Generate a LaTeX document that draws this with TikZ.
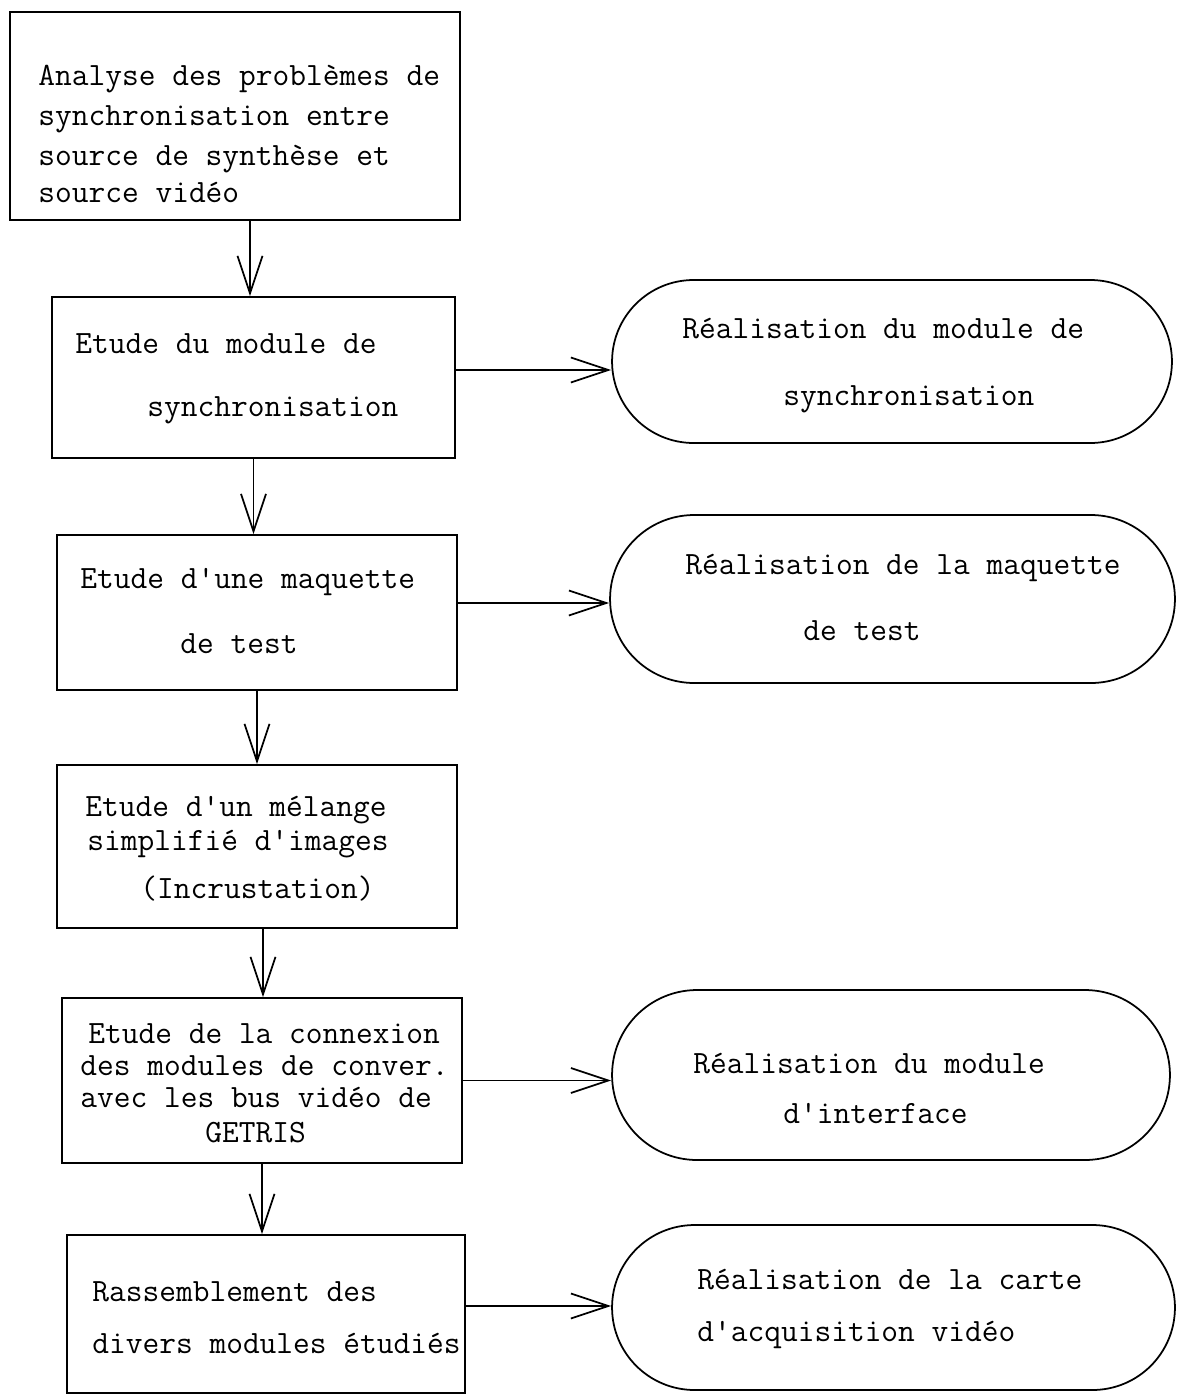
\documentclass[tikz,border=0pt]{standalone}
\usepackage{fontspec}
\usetikzlibrary{arrows.meta,shapes.misc}

\begin{document}
\begin{tikzpicture}[x=0.02cm,y=-0.02cm,
		etape/.style={draw, line width=1pt, rectangle, inner sep=0pt},
		realis/.style={draw, line width=1pt, rounded rectangle, inner sep=0pt},
		txt/.style={anchor=mid west, inner sep=0pt, font=\ttfamily\fontsize{18.5}{22}\selectfont},
		fleche/.style={line width=1pt, -{Straight Barb[length=0.75cm,width=0.5cm]}}]
		\useasboundingbox (0,0) rectangle (1179,1397);

		% etudes
		\node[etape, minimum width=9cm, minimum height=4.16cm] (b1) at (235,116) {};
		\node[etape, minimum width=8.06cm, minimum height=3.22cm] (b2) at (253.5,377.5) {};
		\node[etape, minimum width=8cm, minimum height=3.1cm] (b3) at (257,612.5) {};
		\node[etape, minimum width=8cm, minimum height=3.26cm] (b4) at (257,846.5) {};
		\node[etape, minimum width=8cm, minimum height=3.3cm] (b5) at (262,1080.5) {};
		\node[etape, minimum width=7.96cm, minimum height=3.16cm] (b6) at (266,1314) {};

		% realisations
		\node[realis, minimum width=11.2cm, minimum height=3.26cm] (s1) at (892,361.5) {};
		\node[realis, minimum width=11.3cm, minimum height=3.36cm] (s2) at (892.5,599) {};
		\node[realis, minimum width=11.16cm, minimum height=3.4cm] (s3) at (891,1075) {};
		\node[realis, minimum width=11.26cm, minimum height=3.3cm] (s4) at (893.5,1307.5) {};

		\node[txt] (t1a) at (38,82) {Analyse des problèmes de};
		\node[txt] (t1b) at (38,122) {synchronisation entre};
		\node[txt] (t1c) at (38,162) {source de synthèse et};
		\node[txt] (t1d) at (38,199) {source vidéo};

		\node[txt] (t2a) at (75,350) {Etude du module de};
		\node[txt] (t2b) at (147,413) {synchronisation};

		\node[txt] (t3a) at (80,585) {Etude d'une maquette};
		\node[txt] (t3b) at (180,650) {de test};

		\node[txt] (t4a) at (85,813) {Etude d'un mélange};
		\node[txt] (t4b) at (87,847) {simplifié d'images};
		\node[txt] (t4c) at (140,895) {(Incrustation)};

		\node[txt] (t5a) at (88,1040) {Etude de la connexion};
		\node[txt] (t5b) at (80,1072) {des modules de conver.};
		\node[txt] (t5c) at (80,1104) {avec les bus vidéo de};
		\node[txt] (t5d) at (205,1139) {GETRIS};

		\node[txt] (t6a) at (92,1298) {Rassemblement des};
		\node[txt] (t6b) at (92,1350) {divers modules étudiés};

		\node[txt] (u1a) at (682,335) {Réalisation du module de};
		\node[txt] (u1b) at (783,402) {synchronisation};
		\node[txt] (u2a) at (685,571) {Réalisation de la maquette};
		\node[txt] (u2b) at (803,637) {de test};
		\node[txt] (u3a) at (693,1070) {Réalisation du module};
		\node[txt] (u3b) at (783,1120) {d'interface};
		\node[txt] (u4a) at (697,1286) {Réalisation de la carte};
		\node[txt] (u4b) at (697,1338) {d'acquisition vidéo};

		% fleches
		\draw[fleche] ([xshift=0.3cm]b1.south) -- ([xshift=0.3cm]b1.south |- b2.north);
		\draw[fleche] (b2.south) -- (b2.south |- b3.north);
		\draw[fleche] (b3.south) -- (b3.south |- b4.north);
		\draw[fleche] ([xshift=0.12cm]b4.south) -- ([xshift=0.12cm]b4.south |- b5.north);
		\draw[fleche] (b5.south) -- (b5.south |- b6.north);

		\draw[fleche] ([yshift=0.15cm]b2.east) -- ([yshift=0.15cm]b2.east -| s1.west);
		\draw[fleche] ([yshift=0.19cm]b3.east) -- ([yshift=0.19cm]b3.east -| s2.west);
		\draw[fleche] (b5.east) -- (b5.east -| s3.west);
		\draw[fleche] ([yshift=0.16cm]b6.east) -- ([yshift=0.16cm]b6.east -| s4.west);
	\end{tikzpicture}
\end{document}
